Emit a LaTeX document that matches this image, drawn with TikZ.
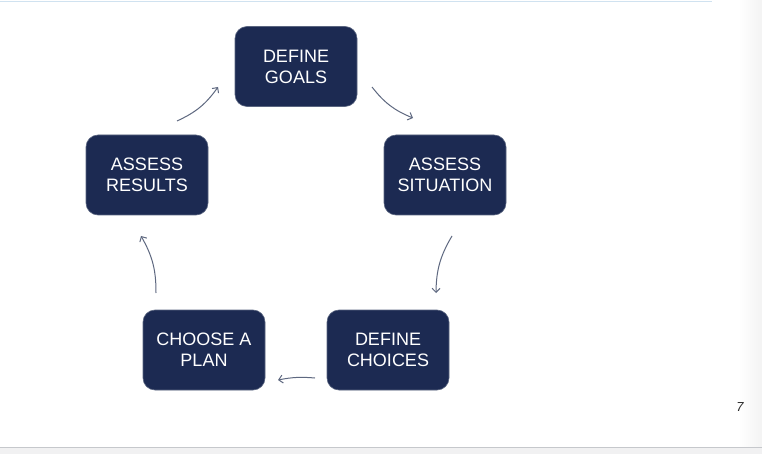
\documentclass[tikz,border=0pt]{standalone}
\usepackage{fontspec}
\setmainfont{Liberation Sans}
\usetikzlibrary{arrows.meta}
\definecolor{boxfill}{HTML}{1C2A52}
\definecolor{boxline}{HTML}{5A6580}
\definecolor{arrowc}{HTML}{5E6880}
\definecolor{topline}{HTML}{D0E2F0}
\definecolor{botline}{HTML}{C6C8CC}
\definecolor{botfill}{HTML}{F1F1F2}
\definecolor{sidefill}{HTML}{F3F3F3}
\tikzset{
  stepbox/.style={draw=boxline, line width=0.6pt, fill=boxfill, rounded corners=12pt,
    minimum width=122pt, minimum height=80pt, inner sep=0pt, align=center,
    text=white, font=\fontsize{18}{21}\selectfont},
  cyc/.style={draw=arrowc, line width=1pt, -{Straight Barb[length=4pt,width=8pt]}}
}
\begin{document}
\begin{tikzpicture}[x=1pt,y=-1pt]
\useasboundingbox (0,0) rectangle (762,454);
\fill[white] (0,0) rectangle (762,454);
% right side shading
\shade[left color=white, right color=sidefill] (738,0) rectangle (762,447);
% top line
\draw[topline, line width=1.8pt] (0,1.5) -- (712,1.5);
% bottom bar
\fill[botfill] (0,448) rectangle (762,454);
\draw[botline, line width=1.2pt] (0,447.6) -- (762,447.6);
% page number
\node[font=\fontsize{13}{15}\selectfont\itshape, text=black!85] (pnum) at (740,407) {7};
% boxes
\node[stepbox] (goals) at (296,66.5) {DEFINE\\GOALS};
\node[stepbox] (situation) at (445,175) {ASSESS\\SITUATION};
\node[stepbox] (choices) at (388,350) {DEFINE\\CHOICES};
\node[stepbox] (plan) at (204,350) {CHOOSE A\\PLAN};
\node[stepbox] (results) at (147,175) {ASSESS\\RESULTS};
% arrow end points
\coordinate (a1s) at (372,87);  \coordinate (a1e) at (413,118);
\coordinate (a2s) at (452,236); \coordinate (a2e) at (436,293);
\coordinate (a3s) at (315,378); \coordinate (a3e) at (278,380);
\coordinate (a4s) at (156,293); \coordinate (a4e) at (141,236);
\coordinate (a5s) at (177,121); \coordinate (a5e) at (218,87);
\draw[cyc] (a1s) to[bend right=15] (a1e);
\draw[cyc] (a2s) to[bend right=15] (a2e);
\draw[cyc] (a3s) to[bend right=8] (a3e);
\draw[cyc] (a4s) to[bend right=15] (a4e);
\draw[cyc] (a5s) to[bend right=15] (a5e);
\end{tikzpicture}
\end{document}
